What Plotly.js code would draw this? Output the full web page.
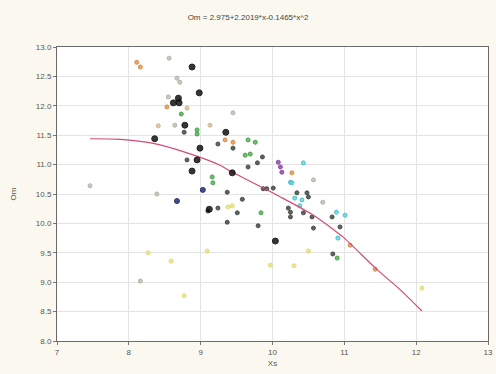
<!DOCTYPE html>
<html>
<head>
<meta charset="utf-8">
<script src="https://cdn.plot.ly/plotly-3.0.1.min.js"></script>
<style>html,body{margin:0;padding:0;background:#fbf9ef;}#chart{width:496px;height:374px;}</style>
</head>
<body>
<div id="chart"></div>
<script>
// Fitted curve
const curveX = [7.46, 7.88, 8.34, 8.81, 9.27, 9.41, 10.11, 10.57, 10.80, 10.98, 11.46, 11.78, 12.08];
const curveY = [11.44, 11.43, 11.36, 11.20, 10.99, 10.89, 10.45, 10.14, 9.94, 9.77, 9.21, 8.87, 8.51];

const blackX = [8.88, 8.98, 8.62, 8.69, 8.70, 8.78, 8.36, 8.99, 8.95, 8.88, 9.44, 9.12, 10.04, 9.35];
const blackY = [12.66, 12.22, 12.05, 12.13, 12.05, 11.67, 11.44, 11.28, 11.08, 10.89, 10.86, 10.24, 9.70, 11.55];

const blueX = [9.03, 8.67];
const blueY = [10.57, 10.38];

const darkX = [8.77, 9.45, 9.24, 8.81, 9.24, 9.37, 9.58, 9.51, 9.37, 9.80, 9.86, 9.79, 9.66, 9.87, 9.92, 10.01, 10.34, 10.48, 10.50, 10.22, 10.25, 10.25, 10.43, 10.55, 10.83, 10.57, 10.94, 10.84, 9.10];
const darkY = [11.55, 11.28, 11.35, 11.08, 10.26, 10.53, 10.41, 10.18, 10.02, 9.96, 11.13, 11.03, 10.96, 10.59, 10.59, 10.60, 10.52, 10.52, 10.45, 10.26, 10.19, 10.11, 10.18, 10.11, 10.11, 9.92, 9.94, 9.48, 10.21];

const greenX = [8.73, 8.95, 8.95, 9.66, 9.76, 9.62, 9.69, 9.84, 10.90, 9.16, 9.17];
const greenY = [11.86, 11.59, 11.52, 11.42, 11.38, 11.16, 11.18, 10.18, 9.41, 10.79, 10.69];

const cyanX = [10.25, 10.31, 10.41, 10.38, 10.27, 10.91, 10.89, 11.01, 10.43];
const cyanY = [10.70, 10.43, 10.40, 10.30, 10.69, 9.75, 10.19, 10.14, 11.03];

const purpleX = [10.08, 10.11, 10.13];
const purpleY = [11.04, 10.96, 10.87];

const orangeX = [8.16, 8.11, 8.53, 9.45, 9.34, 10.27, 11.08, 11.43];
const orangeY = [12.66, 12.74, 11.98, 11.38, 11.42, 10.86, 9.63, 9.22];

const tanX = [8.41, 8.81, 9.13];
const tanY = [11.66, 11.96, 11.67];

const grayX = [8.56, 8.67, 8.71, 8.55, 8.64, 9.45, 10.57, 10.70, 7.46, 8.16, 8.39];
const grayY = [12.81, 12.47, 12.40, 12.15, 11.67, 11.88, 10.74, 10.36, 10.64, 9.02, 10.50];

const yellowX = [8.27, 8.59, 8.77, 9.09, 9.97, 10.30, 10.50, 9.38, 9.44, 12.08];
const yellowY = [9.50, 9.36, 8.77, 9.53, 9.29, 9.28, 9.53, 10.28, 10.30, 8.90];

const xTicks = [7, 8, 9, 10, 11, 12, 13];
const yTicks = [8.0, 8.5, 9.0, 9.5, 10.0, 10.5, 11.0, 11.5, 12.0, 12.5, 13.0];

function pts(x, y, color, size, line) {
  return {x: x, y: y, type: 'scatter', mode: 'markers', showlegend: false, hoverinfo: 'skip',
    marker: {color: color, size: size, opacity: 0.85, line: {color: line, width: 1}}};
}

const traces = [
  pts(grayX, grayY, '#c4c0b4', 4, '#a8a498'),
  pts(yellowX, yellowY, '#ece47a', 4, '#dcd468'),
  pts(tanX, tanY, '#dcc09c', 4, '#c4a884'),
  pts(orangeX, orangeY, '#ec9848', 4, '#cc7c34'),
  pts(cyanX, cyanY, '#58dce4', 4, '#38b4c4'),
  pts(purpleX, purpleY, '#9444b4', 4, '#743494'),
  pts(greenX, greenY, '#48bc48', 4, '#348c34'),
  pts(darkX, darkY, '#3e4c3c', 4, '#2a322a'),
  {x: curveX, y: curveY, type: 'scatter', mode: 'lines', line: {color: '#d24a78', width: 1.2, shape: 'spline', smoothing: 0.8}, showlegend: false, hoverinfo: 'skip'},
  pts(blueX, blueY, '#242c7c', 5, '#121244'),
  pts(blackX, blackY, '#121212', 6, '#000000')
];

const axisFont = {family: 'Liberation Sans, Arial, sans-serif', size: 8, color: '#555'};

const layout = {
  width: 496, height: 374,
  paper_bgcolor: '#fbf9ef', plot_bgcolor: '#ffffff',
  margin: {l: 57, r: 8, t: 47, b: 33},
  title: {text: 'Om = 2.975+2.2019*x-0.1465*x^2', font: {family: 'Liberation Sans, Arial, sans-serif', size: 8, color: '#444'}, x: 0.5, xanchor: 'center', y: 0.955, yanchor: 'middle'},
  xaxis: {range: [7, 13], tickvals: xTicks, ticktext: xTicks.map(String), ticks: 'outside', ticklen: 3, tickcolor: '#777',
    showgrid: true, gridcolor: '#e4e4e4', gridwidth: 1, zeroline: false,
    showline: true, linecolor: '#6a6a6a', linewidth: 1, mirror: true, tickfont: axisFont,
    title: {text: 'Xs', font: axisFont, standoff: 4}},
  yaxis: {range: [8, 13], tickvals: yTicks, ticktext: yTicks.map(v => v.toFixed(1)), ticks: 'outside', ticklen: 3, tickcolor: '#777',
    showgrid: true, gridcolor: '#e4e4e4', gridwidth: 1, zeroline: false,
    showline: true, linecolor: '#6a6a6a', linewidth: 1, mirror: true, tickfont: axisFont,
    title: {text: 'Om', font: axisFont, standoff: 18}}
};

Plotly.newPlot('chart', traces, layout, {staticPlot: true, displayModeBar: false});
</script>
</body>
</html>
